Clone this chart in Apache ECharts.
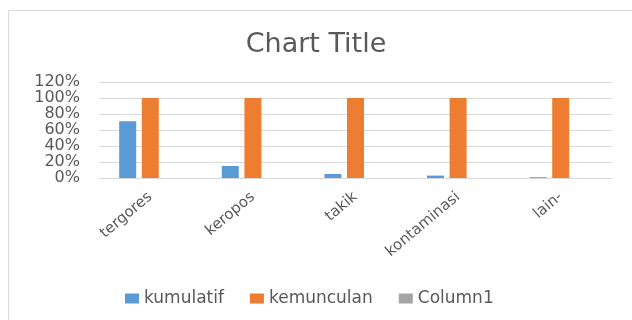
<!DOCTYPE html>
<html>
<head>
<meta charset="utf-8">
<script src="https://cdn.jsdelivr.net/npm/echarts@6/dist/echarts.min.js"></script>
<style>html,body{margin:0;padding:0;background:#fff;}#c{width:632px;height:320px;}</style>
</head>
<body>
<div id="c"></div>
<script>
var categories = ['tergores', 'keropos', 'takik', 'kontaminasi', 'lain-'];
var kumulatif = [0.71, 0.15, 0.05, 0.03, 0.01];
var kemunculan = [1, 1, 1, 1, 1];
var column1 = ['-', '-', '-', '-', '-'];
var yTicks = [0, 0.2, 0.4, 0.6, 0.8, 1.0, 1.2];

var FONT = 'DejaVu Sans';
var chart = echarts.init(document.getElementById('c'), null, {renderer: 'canvas'});
chart.setOption({
  animation: false,
  backgroundColor: '#ffffff',
  title: {
    text: 'Chart Title',
    left: 'center',
    top: 26,
    textStyle: {fontFamily: FONT, fontSize: 27, fontWeight: 'normal', color: '#595959'}
  },
  graphic: [{
    type: 'rect',
    shape: {x: 8.5, y: 10.5, width: 700, height: 400},
    style: {fill: 'none', stroke: '#d9d9d9', lineWidth: 1},
    silent: true
  }],
  legend: {
    bottom: 8,
    left: 120,
    itemWidth: 14,
    itemHeight: 10,
    itemGap: 26,
    icon: 'rect',
    textStyle: {fontFamily: FONT, fontSize: 17, color: '#595959'},
    data: ['kumulatif', 'kemunculan', 'Column1']
  },
  grid: {left: 99, right: 20, top: 82, bottom: 142, containLabel: false},
  xAxis: {
    type: 'category',
    data: categories,
    axisLine: {lineStyle: {color: '#d9d9d9'}},
    axisTick: {show: false},
    axisLabel: {rotate: 40, margin: 17, fontFamily: FONT, fontSize: 15, color: '#595959', interval: 0}
  },
  yAxis: {
    type: 'value',
    min: yTicks[0],
    max: yTicks[yTicks.length - 1],
    interval: 0.2,
    axisLine: {show: false},
    axisTick: {show: false},
    splitLine: {lineStyle: {color: '#d9d9d9'}},
    axisLabel: {
      margin: 19,
      showMinLabel: true,
      showMaxLabel: true,
      hideOverlap: false,
      lineHeight: 14,
      fontFamily: FONT, fontSize: 16, color: '#595959',
      formatter: function (v) { return Math.round(v * 100) + '%'; }
    }
  },
  series: [
    {name: 'kumulatif', type: 'bar', data: kumulatif, barWidth: 17, barGap: '33%', itemStyle: {color: '#5b9bd5'}},
    {name: 'kemunculan', type: 'bar', data: kemunculan, barWidth: 17, barGap: '33%', itemStyle: {color: '#ed7d31'}},
    {name: 'Column1', type: 'bar', data: column1, barWidth: 17, barGap: '33%', itemStyle: {color: '#a5a5a5'}}
  ]
});
</script>
</body>
</html>
